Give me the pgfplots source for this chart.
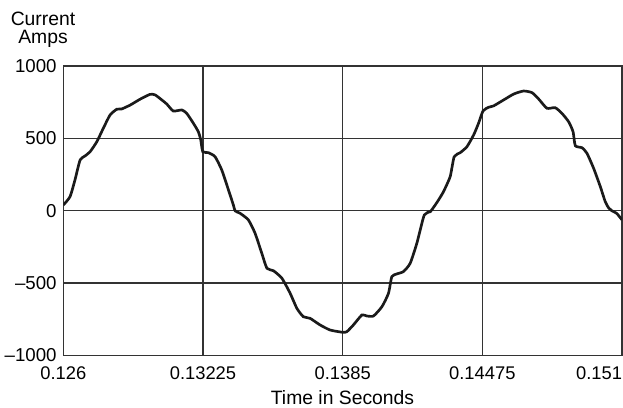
\documentclass[border=0pt]{standalone}
\usepackage{fontspec}
\setmainfont{Liberation Sans}
\usepackage{pgfplots}
\pgfplotsset{compat=1.18}

\definecolor{curve}{HTML}{1A1A1A}
\definecolor{gridc}{HTML}{333333}

\begin{document}
\fontsize{11.6}{13}\selectfont
\begin{tikzpicture}
\path[use as bounding box] (0,0) rectangle (373.8pt,244.2pt);
\begin{axis}[
  at={(38pt,31pt)}, anchor=south west,
  scale only axis,
  width=335.2pt, height=173.6pt,
  xmin=0.126, xmax=0.151,
  ymin=-1000, ymax=1000,
  xtick={0.126,0.13225,0.1385,0.14475,0.151},
  xticklabels={0.126,0.13225,0.1385,0.14475,\llap{0.151}},
  ytick={-1000,-500,0,500,1000},
  yticklabels={–1000,–500,0,500,1000},
  major tick length=0pt,
  grid=major,
  grid style={gridc, line width=0.75pt},
  axis line style={gridc, line width=0.8pt},
  xticklabel style={yshift=-2.9pt, font=\fontsize{11}{13}\selectfont},
  yticklabel style={font=\fontsize{11.2}{13}\selectfont},
  clip=true,
]
\addplot[curve, line width=1.6pt, smooth, tension=0.35] table {
t I
0.12600 39
0.12630 97
0.12652 212
0.12675 350
0.12697 378
0.12720 408
0.12750 477
0.12779 570
0.12809 661
0.12839 701
0.12861 703
0.12899 730
0.12943 770
0.12988 804
0.13011 800
0.13041 765
0.13063 737
0.13092 689
0.13130 696
0.13152 673
0.13182 604
0.13204 546
0.13215 489
0.13224 408
0.13249 401
0.13279 373
0.13309 281
0.13339 143
0.13361 39
0.13369 -2
0.13391 -18
0.13428 -64
0.13458 -156
0.13488 -294
0.13511 -398
0.13540 -415
0.13578 -467
0.13615 -571
0.13645 -675
0.13674 -733
0.13704 -744
0.13749 -790
0.13794 -825
0.13851 -841
0.13869 -836
0.13898 -790
0.13936 -721
0.13958 -728
0.13988 -728
0.14026 -663
0.14055 -571
0.14070 -456
0.14093 -437
0.14122 -421
0.14152 -364
0.14182 -225
0.14215 -30
0.14242 -7
0.14264 39
0.14279 74
0.14301 131
0.14331 235
0.14349 373
0.14376 401
0.14406 442
0.14436 523
0.14458 604
0.14478 689
0.14503 715
0.14525 724
0.14570 765
0.14615 806
0.14659 827
0.14697 816
0.14727 772
0.14764 708
0.14801 712
0.14831 673
0.14861 615
0.14881 546
0.14891 449
0.14921 435
0.14943 397
0.14973 293
0.15003 166
0.15025 62
0.15040 20
0.15052 2
0.15077 -20
0.15100 -64
};
\end{axis}
\node[anchor=base] at (25.8pt,228.6pt) {Current};
\node[anchor=base] at (25.8pt,217.8pt) {Amps};
\node[anchor=base] at (205.5pt,1.8pt) {Time in Seconds};
\end{tikzpicture}
\end{document}
